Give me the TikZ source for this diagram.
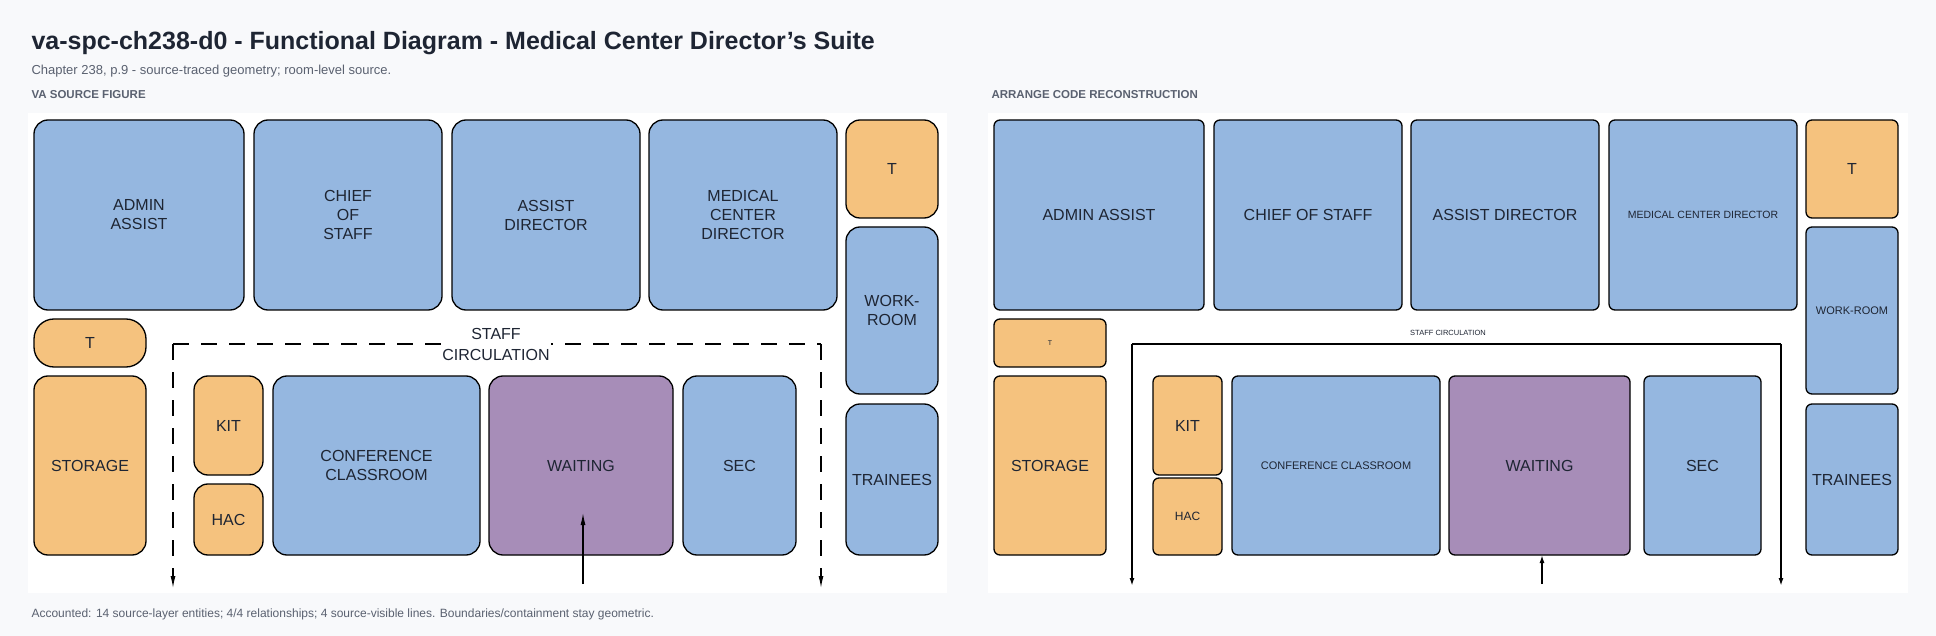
\documentclass[tikz,border=0pt]{standalone}
\usepackage{fontspec}
\setmainfont{Liberation Sans}
\usetikzlibrary{arrows.meta}
\definecolor{bg}{HTML}{F8F9FB}
\definecolor{bl}{HTML}{95B7E0}
\definecolor{or}{HTML}{F5C27E}
\definecolor{pu}{HTML}{A78DB8}
\definecolor{ink}{HTML}{1E2533}
\definecolor{gr}{HTML}{5A6170}
\newcommand\myroom[7]{\node[room,#6,minimum width={(#4-#2)*1pt},minimum height={(#5-#3)*1pt}] (#1) at ({(#2+#4)/2},{(#3+#5)/2}) {#7};}
\begin{document}
\begin{tikzpicture}[x=1pt,y=-1pt,
 room/.style={draw=black,line width=1.3pt,inner sep=0pt,outer sep=0pt,align=center,text=ink,font=\fontsize{16}{19}\selectfont},
 rl/.style={rounded corners=14pt},
 rr/.style={rounded corners=6pt},
 B/.style={fill=bl},O/.style={fill=or},P/.style={fill=pu},
 arr/.style={line width=1.2pt,-{Latex[length=12pt,width=5pt]}}]
\fill[bg] (0,0) rectangle (1936,636);
\useasboundingbox (0,0) rectangle (1936,636);
\node[anchor=west,font=\bfseries\fontsize{25}{28}\selectfont,text=ink] (title) at (28,43) {va-spc-ch238-d0 - Functional Diagram - Medical Center Director's Suite};
\node[anchor=west,font=\fontsize{13}{15}\selectfont,text=gr] (sub) at (28,71) {Chapter 238, p.9 - source-traced geometry; room-level source.};
\node[anchor=west,font=\bfseries\fontsize{11.5}{13}\selectfont,text=gr] (h1) at (28,95) {VA SOURCE FIGURE};
\node[anchor=west,font=\bfseries\fontsize{11.5}{13}\selectfont,text=gr] (h2) at (988,95) {ARRANGE CODE RECONSTRUCTION};
\node[anchor=west,font=\fontsize{12}{14}\selectfont,text=gr] (foot) at (28,614) {Accounted: 14 source-layer entities; 4/4 relationships; 4 source-visible lines. Boundaries/containment stay geometric.};
\fill[white] (28,113) rectangle (947,593);
\fill[white] (988,113) rectangle (1908,593);
% left panel
\myroom{a1}{34}{120}{244}{310}{B,rl}{ADMIN\\ASSIST}
\myroom{a2}{254}{120}{442}{310}{B,rl}{CHIEF\\OF\\STAFF}
\myroom{a3}{452}{120}{640}{310}{B,rl}{ASSIST\\DIRECTOR}
\myroom{a4}{649}{120}{837}{310}{B,rl}{MEDICAL\\CENTER\\DIRECTOR}
\myroom{a5}{846}{120}{938}{218}{O,rl}{T}
\myroom{a6}{846}{227}{938}{394}{B,rl}{WORK-\\ROOM}
\myroom{a7}{846}{404}{938}{555}{B,rl}{TRAINEES}
\myroom{a8}{34}{319}{146}{367}{O,rounded corners=20pt}{T}
\myroom{a9}{34}{376}{146}{555}{O,rl}{STORAGE}
\myroom{a10}{194}{376}{263}{475}{O,rl}{KIT}
\myroom{a11}{194}{484}{263}{555}{O,rl}{HAC}
\myroom{a12}{273}{376}{480}{555}{B,rl}{CONFERENCE\\CLASSROOM}
\myroom{a13}{489}{376}{673}{555}{P,rl}{WAITING}
\myroom{a14}{683}{376}{796}{555}{B,rl}{SEC}
\coordinate (lc1) at (173,588); \coordinate (lc2) at (173,344);
\coordinate (lc3) at (821,344); \coordinate (lc4) at (821,588);
\draw[line width=1.2pt,dash pattern=on 16pt off 12pt] (lc2) -- (lc3);
\draw[arr,dash pattern=on 16pt off 12pt] (lc2) -- (lc1);
\draw[arr,dash pattern=on 16pt off 12pt] (lc3) -- (lc4);
\node[fill=white,align=center,text=ink,font=\fontsize{16}{21}\selectfont,inner sep=1pt] (lcl) at (496,344) {STAFF\\CIRCULATION};
\coordinate (lw) at (583,584);
\draw[arr] (lw) -- (583,513);
% right panel
\myroom{b1}{994}{120}{1204}{310}{B,rr}{ADMIN ASSIST}
\myroom{b2}{1214}{120}{1402}{310}{B,rr}{CHIEF OF STAFF}
\myroom{b3}{1411}{120}{1599}{310}{B,rr}{ASSIST DIRECTOR}
\myroom{b4}{1609}{120}{1797}{310}{B,rr,font=\fontsize{10.5}{12}\selectfont}{MEDICAL CENTER DIRECTOR}
\myroom{b5}{1806}{120}{1898}{218}{O,rr}{T}
\myroom{b6}{1806}{227}{1898}{394}{B,rr,font=\fontsize{11}{13}\selectfont}{WORK-ROOM}
\myroom{b7}{1806}{404}{1898}{555}{B,rr}{TRAINEES}
\myroom{b8}{994}{319}{1106}{367}{O,rr,font=\fontsize{7}{8}\selectfont}{T}
\myroom{b9}{994}{376}{1106}{555}{O,rr}{STORAGE}
\myroom{b10}{1153}{376}{1222}{475}{O,rr}{KIT}
\myroom{b11}{1153}{478}{1222}{555}{O,rr,font=\fontsize{12}{14}\selectfont}{HAC}
\myroom{b12}{1232}{376}{1440}{555}{B,rr,font=\fontsize{11}{13}\selectfont}{CONFERENCE CLASSROOM}
\myroom{b13}{1449}{376}{1630}{555}{P,rr}{WAITING}
\myroom{b14}{1644}{376}{1761}{555}{B,rr}{SEC}
\coordinate (rc1) at (1132,586); \coordinate (rc2) at (1132,344);
\coordinate (rc3) at (1781,344); \coordinate (rc4) at (1781,586);
\draw[line width=1.8pt] (rc2) -- (rc3);
\draw[line width=1.8pt,-{Latex[length=8pt,width=5pt]}] (rc2) -- (rc1);
\draw[line width=1.8pt,-{Latex[length=8pt,width=5pt]}] (rc3) -- (rc4);
\node[text=ink,font=\fontsize{7.5}{9}\selectfont] (rcl) at (1448,333) {STAFF CIRCULATION};
\coordinate (rw) at (1542,584);
\draw[line width=1.5pt,-{Latex[length=8pt,width=5pt]}] (rw) -- (b13.south -| rw);
\end{tikzpicture}
\end{document}
